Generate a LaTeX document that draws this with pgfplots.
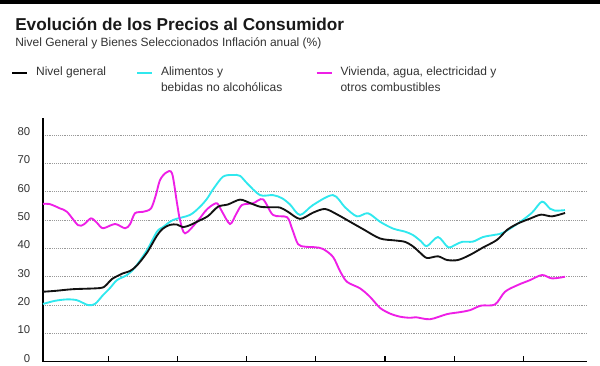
\documentclass[border=0pt]{standalone}
\usepackage{pgfplots}
\pgfplotsset{compat=1.18}
\usepackage{fontspec}
\setmainfont{Liberation Sans}
\definecolor{cyanline}{HTML}{30E8EE}
\definecolor{magline}{HTML}{EE1FE6}
\definecolor{txt}{HTML}{333333}
\begin{document}
\begin{tikzpicture}
\useasboundingbox (0,0) rectangle (450pt,-273.75pt);
\fill[black] (0,0) rectangle (450pt,-3pt);
\node[anchor=base west,inner sep=0pt,font=\fontsize{12.9}{15}\selectfont\bfseries,text=black!90] at (11.25pt,-22.5pt) {Evolución de los Precios al Consumidor};
\node[anchor=base west,inner sep=0pt,font=\fontsize{9}{11}\selectfont,text=txt] at (11.25pt,-35pt) {Nivel General y Bienes Seleccionados Inflación anual (\%)};
\begin{axis}[
  at={(32.25pt,-271.3pt)}, anchor=south west,
  scale only axis, width=408pt, height=182.8pt,
  xmin=43, xmax=587, ymin=0, ymax=86,
  axis x line=bottom, axis y line=left,
  axis line style={-, black, line width=0.8pt},
  xtick={108.3,177.7,246.7,315.7,385,454.3,523.3},
  xticklabels={},
  xtick style={black, line width=0.8pt},
  tick align=inside, major tick length=4pt,
  ytick={0,10,...,80},
  ytick style={draw=none},
  ymajorgrids,
  major grid style={densely dotted, black!40, line width=0.6pt},
  yticklabel style={font=\fontsize{8.5}{10}\selectfont, text=txt, yshift=2.5pt, xshift=-6pt},
  /pgf/number format/assume math mode=true,
  clip=false,
  legend style={at={(axis description cs:-0.0588,1.2093)}, anchor=north west, draw=none, fill=none, inner sep=0pt,
    cells={anchor=base west},
    nodes={inner sep=0pt, text=txt, font=\fontsize{9}{12}\selectfont},
    /tikz/every odd column/.append style={column sep=6pt}},
  legend columns=3,
  legend image code/.code={\draw[#1] (0pt,2.5pt) -- (11.25pt,2.5pt);},
]
\addlegendimage{black, line width=1.4pt}
\addlegendentry{\makebox[75pt][l]{Nivel general}}
\addplot[cyanline, line width=1.4pt, smooth, tension=0.5] table {
x y
43 20.4
55 21.5
67 22.0
77 21.7
88 20.0
95 20.4
103 23.5
110 26.0
117 28.8
127 30.6
135 33.3
147 39.4
157 45.9
163 47.5
173 50.0
190 51.8
200 54.7
207 57.5
213 60.8
223 65.3
233 65.9
240 65.6
247 63.0
260 58.8
273 58.8
282 57.7
290 55.5
300 51.8
313 55.3
333 58.8
345 54.5
357 51.3
368 52.4
380 49.4
393 47.0
405 45.9
413 44.7
421 42.5
427 40.8
438 44.0
448 40.4
455 41.2
462 42.3
473 42.4
483 44.0
495 44.8
503 45.5
518 48.8
532 52.6
542 56.5
550 54.0
555 53.3
565 53.5
};
\addlegendentry{\parbox[t]{116pt}{Alimentos y\\bebidas no alcohólicas}}
\addplot[magline, line width=1.4pt, smooth, tension=0.5] table {
x y
43 55.7
50 55.6
60 54.1
67 52.9
78 48.2
84 48.5
91 50.6
97 49.0
103 47.1
115 48.6
125 47.1
130 48.5
135 52.4
143 52.9
151 54.1
156 59.0
160 64.1
166 66.7
172 66.5
177 56.0
180 50.0
185 45.3
197 49.4
205 53.0
210 54.7
217 55.9
222 53.0
230 48.6
236 52.0
242 55.3
253 55.9
263 57.3
273 51.8
287 51.0
292 47.0
298 41.5
305 40.6
315 40.4
323 39.8
333 37.0
340 32.0
347 28.2
360 25.9
370 22.9
380 19.0
390 17.0
400 15.9
410 15.5
416 15.7
430 15.0
447 16.8
460 17.5
470 18.2
481 19.8
495 20.2
505 24.7
518 27.1
530 28.8
542 30.6
552 29.4
565 30.0
};
\addlegendentry{\parbox[t]{150pt}{Vivienda, agua, electricidad y\\otros combustibles}}
\addplot[black!93, line width=1.4pt, smooth, tension=0.5, forget plot] table {
x y
43 24.7
55 25.0
73 25.6
100 26.0
106 27.0
112 29.2
123 31.2
130 32.0
137 34.0
147 38.5
157 44.5
163 47.0
170 48.3
177 48.4
183 47.5
190 48.2
197 49.4
208 51.4
218 54.7
228 55.5
240 57.2
250 56.0
260 54.7
270 54.5
280 54.4
288 52.9
300 50.4
313 52.6
325 53.9
337 52.0
350 49.4
363 46.8
380 43.5
395 42.8
405 42.3
413 40.7
420 38.5
427 36.6
438 37.2
447 35.9
458 35.9
470 37.7
483 40.3
497 43.0
507 46.5
518 48.8
530 50.5
541 51.9
552 51.3
565 52.5
};
\end{axis}
\end{tikzpicture}
\end{document}
